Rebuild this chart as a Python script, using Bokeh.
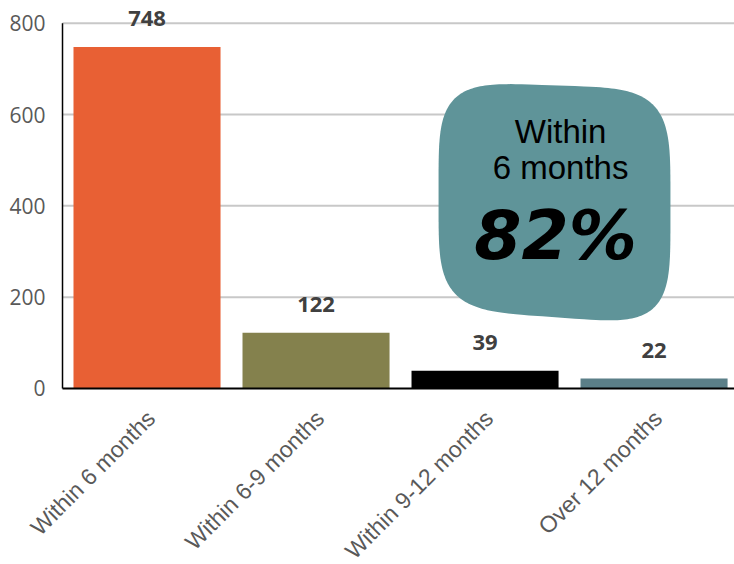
import numpy as np
from bokeh.plotting import figure
from bokeh.models import ColumnDataSource, LabelSet, Label, Range1d
from bokeh.core.properties import value
from bokeh.embed import file_html
from bokeh.resources import INLINE
from math import pi

# ---- data ----
categories = ["Within 6 months", "Within 6-9 months", "Within 9-12 months", "Over 12 months"]
values = [748, 122, 39, 22]
bar_colors = ["#E86034", "#84814D", "#000000", "#5B7F88"]
y_ticks = [0, 200, 400, 600, 800]
callout_lines = ["Within", "6 months"]
callout_value = "82%"

# ---- layout (data-space extents of the canvas) ----
X_START, X_END = -0.3669, 3.976
Y_START, Y_END = -385.5, 849.8

xpos = [i + 0.5 for i in range(len(categories))]
label_shift = 0.024
bars = ColumnDataSource(dict(x=xpos, val=values, color=bar_colors,
                             lab=[str(v) for v in values],
                             cat=categories,
                             xl=[x + label_shift for x in xpos],
                             y0=[0] * len(categories)))
ticks = ColumnDataSource(dict(y=y_ticks, lab=[str(v) for v in y_ticks],
                              x0=[0] * len(y_ticks)))
grid_src = ColumnDataSource(dict(y=y_ticks[1:], x0=[0] * (len(y_ticks) - 1),
                                 x1=[X_END] * (len(y_ticks) - 1)))

p = figure(x_range=Range1d(X_START, X_END), y_range=Range1d(Y_START, Y_END),
           width=734, height=564, output_backend="svg", toolbar_location=None,
           x_axis_type=None, y_axis_type=None,
           min_border_left=0, min_border_right=0, min_border_top=0,
           min_border_bottom=0)
p.outline_line_color = None
p.background_fill_color = "white"
p.border_fill_color = "white"

# horizontal gridlines
p.segment(x0="x0", y0="y", x1="x1", y1="y", source=grid_src,
          line_color="#C8C8C8", line_width=2)

# blob callout (behind bars, above grid)
cx, cy = 2.911, 410.0
hw, hh = 0.686, 254.0
t = np.linspace(0, 2 * pi, 240)
n = 4.5
xn = np.sign(np.cos(t)) * np.abs(np.cos(t)) ** (2 / n)
yn = np.sign(np.sin(t)) * np.abs(np.sin(t)) ** (2 / n)
yn = yn - xn * (0.054 - 0.019 * yn)
p.patch(cx + hw * xn, cy + hh * yn, fill_color="#5F9499", line_color=None)

# bars
p.vbar(x="x", top="val", width=0.87, fill_color="color", line_color=None, source=bars)

# axis lines
p.segment(x0=[0], y0=[min(y_ticks)], x1=[0], y1=[max(y_ticks)],
          line_color="#000000", line_width=1.5)
p.segment(x0=[0], y0=[0], x1=[X_END], y1=[0], line_color="#000000", line_width=2)

# y tick labels
p.add_layout(LabelSet(x="x0", y="y", text="lab", source=ticks, x_offset=-17,
                      text_align="right", text_baseline="middle",
                      text_font=value("Open Sans"), text_font_size="21px",
                      text_color="#595959"))

# value labels
p.add_layout(LabelSet(x="x", y="val", text="lab", source=bars, y_offset=28,
                      text_align="center", text_baseline="middle",
                      text_font=value("Open Sans"), text_font_style="bold",
                      text_font_size="22px", text_color="#404040"))

# category labels (rotated 45 degrees)
p.add_layout(LabelSet(x="xl", y="y0", text="cat", source=bars, y_offset=-26,
                      angle=pi / 4, text_align="right", text_baseline="middle",
                      text_font=value("Liberation Sans"),
                      text_font_size="23px", text_color="#595959"))

# callout text
p.add_layout(Label(x=2.947, y=563, text=callout_lines[0], text_align="center",
                   text_baseline="middle", text_font="Liberation Sans",
                   text_font_size="33px", text_color="#000000"))
p.add_layout(Label(x=2.947, y=484, text=callout_lines[1], text_align="center",
                   text_baseline="middle", text_font="Liberation Sans",
                   text_font_size="33px", text_color="#000000"))
p.add_layout(Label(x=2.917, y=335, text=callout_value, text_align="center",
                   text_baseline="middle", text_font="DejaVu Sans",
                   text_font_style="bold italic",
                   text_font_size="68px", text_color="#000000"))

open("out.html", "w").write(file_html(p, INLINE))
